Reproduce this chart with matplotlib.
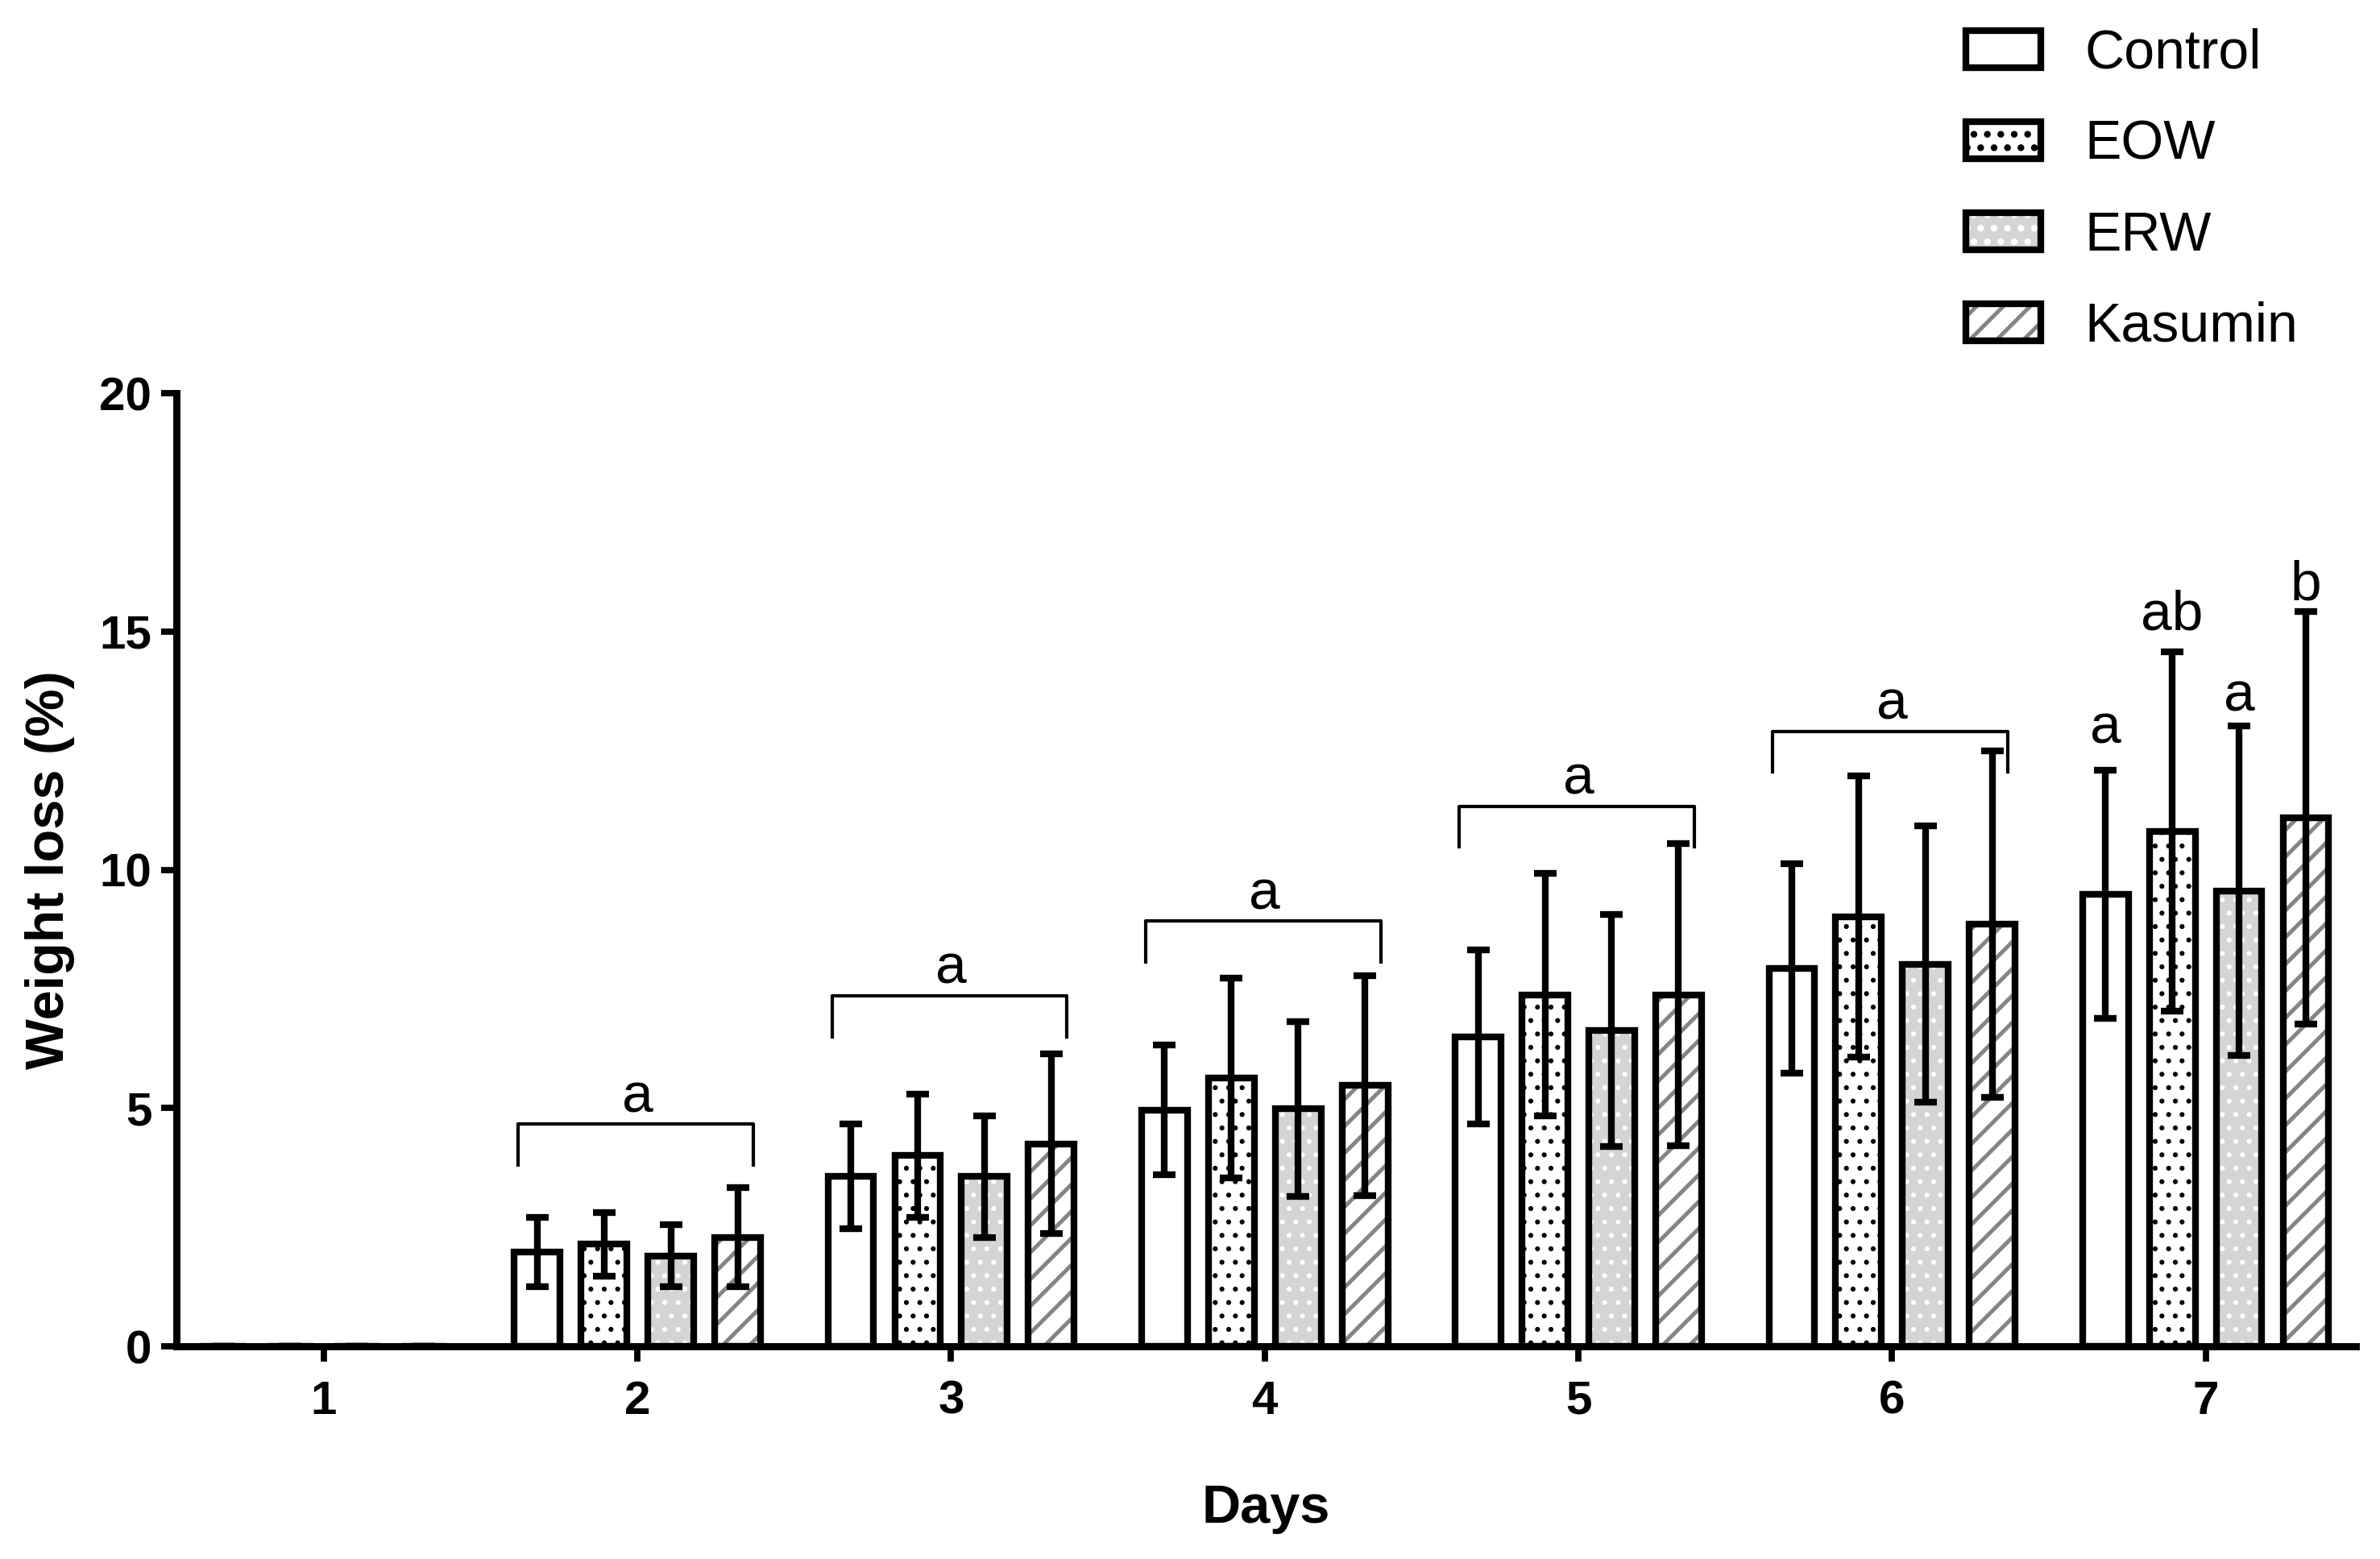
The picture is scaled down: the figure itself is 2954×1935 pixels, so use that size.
import numpy as np
import matplotlib
matplotlib.use("Agg")
import matplotlib.pyplot as plt

plt.rcParams["font.family"] = ["Liberation Sans", "DejaVu Sans"]

days = [1, 2, 3, 4, 5, 6, 7]
groups = ["Control", "EOW", "ERW", "Kasumin"]

control = [0, 1.98, 3.57, 4.96, 6.49, 7.93, 9.48]
control_err = [0, 0.72, 1.10, 1.36, 1.83, 2.20, 2.60]
eow = [0, 2.14, 4.00, 5.63, 7.38, 9.02, 10.80]
eow_err = [0, 0.67, 1.30, 2.09, 2.55, 2.95, 3.77]
erw = [0, 1.90, 3.56, 4.98, 6.63, 8.02, 9.56]
erw_err = [0, 0.65, 1.27, 1.84, 2.44, 2.90, 3.45]
kasumin = [0, 2.29, 4.25, 5.47, 7.38, 8.86, 11.09]
kasumin_err = [0, 1.04, 1.88, 2.31, 3.17, 3.64, 4.33]

# significance letters
bracket_days = [2, 3, 4, 5, 6]
bracket_letters = ["a", "a", "a", "a", "a"]
day7_letters = ["a", "ab", "a", "b"]

means = [control, eow, erw, kasumin]
errs = [control_err, eow_err, erw_err, kasumin_err]

styles = [
    dict(facecolor="white", edgecolor="white", hatch=None),
    dict(facecolor="white", edgecolor="black", hatch=".."),
    dict(facecolor="#d4d4d4", edgecolor="white", hatch=".."),
    dict(facecolor="white", edgecolor="#858585", hatch="//"),
]
hatch_lw = [1.0, 1.0, 1.0, 1.8]

fig = plt.figure(figsize=(14.77, 9.675), dpi=200)
ax = fig.add_axes([0.0741, 0.1364, 0.9159, 0.6114])

x = np.array(days, dtype=float)
step = 0.213
width = 0.146
handles = []
for i in range(4):
    pos = x + (i - 1.5) * step
    plt.rcParams["hatch.linewidth"] = hatch_lw[i]
    fill = ax.bar(pos, means[i], width, linewidth=0, zorder=2, **styles[i])
    edge = ax.bar(pos, means[i], width, facecolor="none", edgecolor="black",
                  linewidth=3, zorder=3)
    ax.errorbar(pos, means[i], yerr=errs[i], fmt="none", ecolor="black",
                elinewidth=3, capsize=5, capthick=3, zorder=4)
    handles.append((fill[0], edge[0]))

# brackets for days 2-6
bracket_y = [4.66, 7.35, 8.92, 11.33, 12.9]
for d, by, lab in zip(bracket_days, bracket_y, bracket_letters):
    ax.plot([d - 0.38, d - 0.38, d + 0.37, d + 0.37],
            [by - 0.85, by, by, by - 0.85], color="black", lw=1.5, zorder=5)
    ax.text(d, by + 0.26, lab, ha="center", va="baseline", fontsize=25)

# letters for day 7
label_y = [12.65, 15.03, 13.33, 15.66]
for i, lab in enumerate(day7_letters):
    ax.text(7 + (i - 1.5) * step, label_y[i], lab, ha="center",
            va="baseline", fontsize=25)

ax.set_xlim(0.53, 7.48)
ax.set_ylim(0, 20)
ax.set_yticks([0, 5, 10, 15, 20])
ax.set_xticks(days)
ax.spines["top"].set_visible(False)
ax.spines["right"].set_visible(False)
ax.spines["left"].set_linewidth(3.2)
ax.spines["bottom"].set_linewidth(3.2)
ax.spines["left"].set_bounds(0, 20)
ax.tick_params(axis="both", direction="out", length=7, width=2.8,
               labelsize=21)
ax.tick_params(axis="x", pad=8)
ax.tick_params(axis="y", pad=4)
for t in ax.get_xticklabels() + ax.get_yticklabels():
    t.set_fontweight("bold")

ax.set_xlabel("Days", fontsize=24, fontweight="bold", labelpad=27)
ax.set_ylabel("Weight loss (%)", fontsize=24, fontweight="bold", labelpad=11)

fig.legend(handles, groups, loc="upper left", bbox_to_anchor=(0.826, 0.982),
           frameon=False, fontsize=24.5, borderpad=0, borderaxespad=0,
           handlelength=1.36, handleheight=0.68, handletextpad=0.8,
           labelspacing=0.72)

plt.savefig("out.png", dpi=200)
